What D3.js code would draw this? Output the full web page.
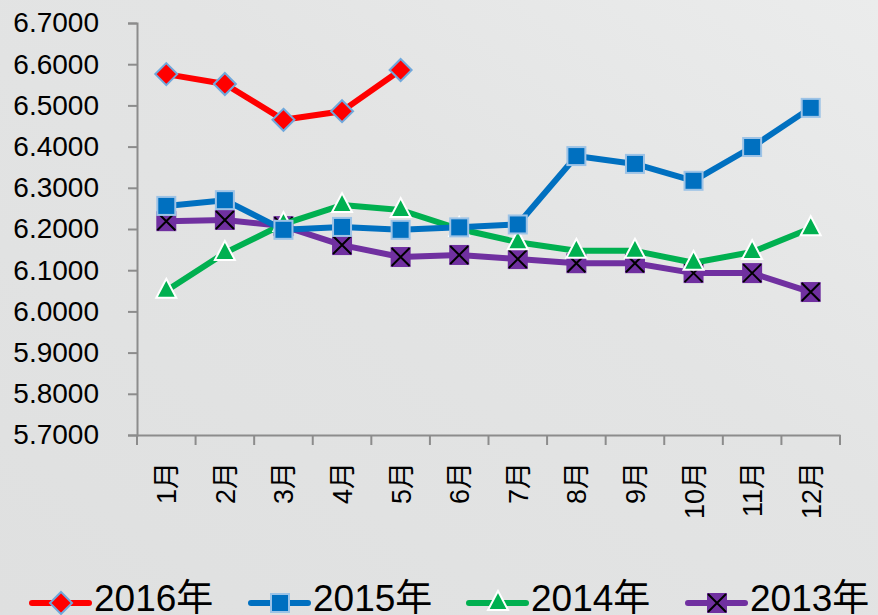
<!DOCTYPE html>
<html>
<head>
<meta charset="utf-8">
<script src="https://cdn.jsdelivr.net/npm/d3@7"></script>
<style>
  html, body { margin: 0; padding: 0; }
  body { width: 878px; height: 615px; overflow: hidden; }
  text { font-family: "Liberation Sans", "Noto Sans CJK SC", sans-serif; fill: #000; }
</style>
</head>
<body>
<div id="chart"></div>
<script>
// ************ data ************
var months = ['1月', '2月', '3月', '4月', '5月', '6月', '7月', '8月', '9月', '10月', '11月', '12月'];
var yTicks = [5.7, 5.8, 5.9, 6.0, 6.1, 6.2, 6.3, 6.4, 6.5, 6.6, 6.7];

var y2016 = [6.576, 6.552, 6.465, 6.486, 6.586];
var y2015 = [6.256, 6.270, 6.198, 6.205, 6.198, 6.204, 6.211, 6.377, 6.358, 6.317, 6.399, 6.494];
var y2014 = [6.050, 6.142, 6.212, 6.258, 6.246, 6.200, 6.168, 6.147, 6.147, 6.118, 6.144, 6.202];
var y2013 = [6.219, 6.222, 6.207, 6.161, 6.132, 6.137, 6.127, 6.117, 6.117, 6.093, 6.093, 6.047];

var seriesNames = ['2016年', '2015年', '2014年', '2013年'];

// ************ svg ************
var svg = d3.select('#chart').append('svg')
    .attr('width', 878)
    .attr('height', 615);

var defs = svg.append('defs');
var bg = defs.append('linearGradient')
    .attr('id', 'bg')
    .attr('x1', 0).attr('y1', 1)
    .attr('x2', 1).attr('y2', 0);
bg.append('stop').attr('offset', 0).attr('stop-color', '#dfe0e0');
bg.append('stop').attr('offset', 0.6).attr('stop-color', '#e3e4e4');
bg.append('stop').attr('offset', 1).attr('stop-color', '#ebecec');

svg.append('rect')
    .attr('width', 878)
    .attr('height', 615)
    .style('fill', 'url(#bg)');

var x = d3.scaleBand()
    .domain(months)
    .range([137, 840]);

var y = d3.scaleLinear()
    .domain([5.7, 6.7])
    .range([435, 23]);

// ************ axes ************
var yAxis = svg.append('g')
    .attr('transform', 'translate(137,0)')
    .call(d3.axisLeft(y).tickValues(yTicks).tickSize(9).tickPadding(29).tickFormat(d3.format('.4f')));

var xAxis = svg.append('g')
    .attr('transform', 'translate(0,435)')
    .call(d3.axisBottom(x).tickSize(0).tickFormat(''));

xAxis.selectAll('.boundary')
    .data(d3.range(months.length + 1))
    .enter().append('line')
    .attr('x1', function(i) { return 137 + i * x.step(); })
    .attr('x2', function(i) { return 137 + i * x.step(); })
    .attr('y1', 0)
    .attr('y2', 10);

svg.selectAll('.domain, .tick line, g line')
    .style('stroke', '#8c8c8c')
    .style('stroke-width', 2);

yAxis.selectAll('text')
    .style('font-size', '28px');

svg.selectAll('.xlabel')
    .data(months)
    .enter().append('text')
    .attr('class', 'xlabel')
    .attr('transform', function(d) {
        return 'translate(' + (x(d) + x.bandwidth() / 2 + 10) + ',462) rotate(-90)';
    })
    .attr('text-anchor', 'end')
    .style('font-size', '27px')
    .text(function(d) { return d; });

// ************ lines ************
var line = d3.line()
    .x(function(d, i) { return x(months[i]) + x.bandwidth() / 2; })
    .y(function(d) { return y(d); });

var series = [
    { name: seriesNames[3], values: y2013, color: '#7030a0', marker: 'xsquare' },
    { name: seriesNames[2], values: y2014, color: '#00b050', marker: 'triangle' },
    { name: seriesNames[1], values: y2015, color: '#0070c0', marker: 'square' },
    { name: seriesNames[0], values: y2016, color: '#ff0000', marker: 'diamond' }
];

function drawMarker(g, type, cx, cy) {
    if (type === 'diamond') {
        g.append('path')
            .attr('d', 'M' + cx + ',' + (cy - 11) + 'L' + (cx + 11) + ',' + cy + 'L' + cx + ',' + (cy + 11) + 'L' + (cx - 11) + ',' + cy + 'Z')
            .style('fill', '#ff0000')
            .style('stroke', '#6fa8dc')
            .style('stroke-width', 2);
    } else if (type === 'square') {
        g.append('rect')
            .attr('x', cx - 9).attr('y', cy - 9)
            .attr('width', 18).attr('height', 18)
            .style('fill', '#0070c0')
            .style('stroke', '#9dc3e6')
            .style('stroke-width', 2);
    } else if (type === 'triangle') {
        g.append('path')
            .attr('d', 'M' + cx + ',' + (cy - 12) + 'L' + (cx + 10) + ',' + (cy + 7) + 'L' + (cx - 10) + ',' + (cy + 7) + 'Z')
            .style('fill', '#00b050')
            .style('stroke', '#ffffff')
            .style('stroke-width', 2);
    } else {
        g.append('rect')
            .attr('x', cx - 10).attr('y', cy - 10)
            .attr('width', 20).attr('height', 20)
            .style('fill', '#7030a0');
        g.append('path')
            .attr('d', 'M' + (cx - 9) + ',' + (cy - 9) + 'L' + (cx + 9) + ',' + (cy + 9) + 'M' + (cx + 9) + ',' + (cy - 9) + 'L' + (cx - 9) + ',' + (cy + 9))
            .style('stroke', '#000')
            .style('stroke-width', 2);
    }
}

series.forEach(function(s) {
    var g = svg.append('g');
    g.append('path')
        .datum(s.values)
        .attr('d', line)
        .style('fill', 'none')
        .style('stroke', s.color)
        .style('stroke-width', 6)
        .style('stroke-linejoin', 'round');
    s.values.forEach(function(v, i) {
        drawMarker(g, s.marker, x(months[i]) + x.bandwidth() / 2, y(v));
    });
});

// ************ legend ************
var legendX = [32, 251, 469, 688];
var legendSeries = [series[3], series[2], series[1], series[0]];
legendSeries.forEach(function(s, i) {
    var g = svg.append('g');
    var lx = legendX[i];
    g.append('line')
        .attr('x1', lx).attr('x2', lx + 57)
        .attr('y1', 603).attr('y2', 603)
        .style('stroke', s.color)
        .style('stroke-width', 6)
        .style('stroke-linecap', 'round');
    drawMarker(g, s.marker, lx + 29, 603);
    g.append('text')
        .attr('x', lx + 62)
        .attr('y', 611)
        .style('font-size', '37px')
        .text(s.name);
});
</script>
</body>
</html>
